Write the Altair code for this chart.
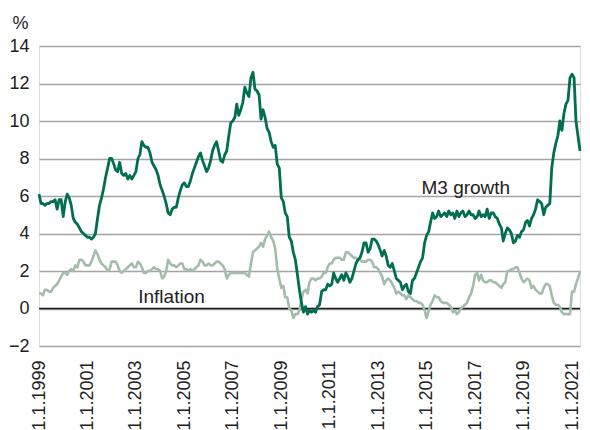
import altair as alt
import pandas as pd

start_month = "1999-01-01"

m3_growth = [
    # 1999
    6.1, 5.6, 5.6, 5.5, 5.6, 5.6, 5.7, 5.7, 5.8, 5.3, 5.8, 5.8,
    # 2000
    4.9, 5.7, 6.1, 5.9, 5.5, 4.8, 4.6, 4.5, 4.3, 4.1, 4.0, 3.9,
    # 2001
    3.8, 3.8, 3.7, 3.8, 4.0, 4.8, 5.5, 5.9, 6.4, 7.0, 7.5, 8.0,
    # 2002
    8.0, 7.7, 7.4, 7.3, 7.8, 7.2, 7.1, 7.2, 6.9, 7.1, 6.9, 7.1,
    # 2003
    7.3, 8.0, 8.2, 8.9, 8.7, 8.6, 8.6, 8.3, 7.8, 7.6, 7.4, 7.1,
    # 2004
    6.6, 6.3, 6.0, 5.6, 5.1, 5.0, 5.3, 5.4, 5.4, 5.9, 6.3, 6.6,
    # 2005
    6.7, 6.5, 6.5, 6.8, 7.2, 7.5, 7.8, 8.1, 8.3, 7.9, 7.6, 7.3,
    # 2006
    7.5, 7.9, 8.4, 8.7, 8.9, 8.4, 7.9, 7.8, 8.2, 8.4, 9.2, 9.9,
    # 2007
    10.0, 10.2, 10.9, 10.3, 10.6, 11.0, 11.8, 11.5, 11.3, 12.3, 12.6, 11.7,
    # 2008
    11.6, 11.4, 10.1, 10.6, 10.2, 9.6, 9.4, 8.9, 8.6, 8.7, 7.7, 7.5,
    # 2009
    5.9, 5.7, 5.1, 4.9, 3.8, 3.6, 3.0, 2.6, 1.8, 1.0, 0.3, -0.2,
    # 2010
    0.1, -0.3, -0.1, -0.2, -0.1, -0.2, 0.1, 0.2, 0.9, 1.0, 1.0, 1.3,
    # 2011
    1.2, 1.3, 1.9, 1.6, 1.4, 1.6, 1.8, 1.5, 1.9, 1.7, 1.4, 1.6,
    # 2012
    2.0, 2.4, 2.6, 2.7, 3.0, 3.5, 3.5, 3.0, 3.2, 3.7, 3.7, 3.6,
    # 2013
    3.4, 3.1, 2.8, 3.1, 2.8, 2.3, 2.2, 2.4, 2.0, 1.6, 1.5, 1.4,
    # 2014
    1.0, 1.2, 1.3, 0.9, 0.8, 1.5, 1.6, 1.9, 2.2, 2.5, 2.7, 3.5,
    # 2015
    3.9, 4.1, 4.6, 5.1, 4.8, 4.9, 5.2, 4.9, 5.0, 5.1, 4.9, 5.2,
    # 2016
    5.0, 5.1, 4.8, 5.2, 4.9, 5.1, 5.2, 4.9, 5.0, 5.2, 5.0, 5.0,
    # 2017
    4.8, 4.9, 5.2, 4.9, 5.0, 4.9, 5.3, 4.8, 5.1, 5.1, 4.9, 4.8,
    # 2018
    4.5, 4.3, 3.6, 4.0, 4.3, 4.2, 4.0, 3.5, 3.6, 3.9, 3.8, 4.1,
    # 2019
    4.2, 4.6, 4.7, 4.4, 4.8, 5.0, 5.3, 5.8, 5.7, 5.6, 5.0, 5.4,
    # 2020
    5.5, 5.6, 7.5, 8.3, 8.8, 9.2, 10.0, 9.5, 10.4, 10.9, 11.1, 12.3,
    # 2021
    12.5, 12.3, 10.0, 9.2, 8.4,
]

inflation = [
    # 1999
    0.8, 0.8, 0.7, 1.0, 1.0, 0.9, 0.9, 1.1, 1.2, 1.3, 1.5, 1.7,
    # 2000
    1.9, 1.9, 1.8, 2.0, 2.1, 2.0, 2.3, 2.2, 2.6, 2.6, 2.5, 2.3,
    # 2001
    2.3, 2.3, 2.5, 2.8, 3.1, 2.9, 2.6, 2.4, 2.3, 2.2, 2.0, 2.1,
    # 2002
    2.5, 2.5, 2.5, 2.3, 2.0, 1.9, 2.0, 2.1, 2.2, 2.3, 2.4, 2.2,
    # 2003
    2.2, 2.5, 2.4, 2.2, 1.9, 1.9, 2.0, 2.0, 2.1, 2.2, 2.1, 2.1,
    # 2004
    2.0, 1.6, 1.7, 2.0, 2.6, 2.4, 2.3, 2.3, 2.2, 2.3, 2.4, 2.4,
    # 2005
    2.1, 2.1, 2.0, 2.1, 2.0, 2.1, 2.2, 2.3, 2.6, 2.5, 2.3, 2.3,
    # 2006
    2.4, 2.3, 2.3, 2.4, 2.5, 2.5, 2.4, 2.3, 2.1, 1.6, 1.8, 1.9,
    # 2007
    1.9, 1.9, 1.9, 1.9, 1.9, 1.9, 1.9, 1.8, 1.7, 2.4, 3.0, 3.1,
    # 2008
    3.2, 3.3, 3.5, 3.3, 3.7, 3.9, 4.1, 3.8, 3.6, 3.2, 2.1, 1.6,
    # 2009
    1.1, 1.2, 0.6, 0.6, 0.0, -0.1, -0.5, -0.3, -0.3, -0.1, 0.5, 0.9,
    # 2010
    1.0, 0.8, 1.4, 1.6, 1.6, 1.5, 1.6, 1.6, 1.7, 1.9, 1.9, 2.2,
    # 2011
    2.4, 2.4, 2.6, 2.7, 2.7, 2.7, 2.6, 2.6, 3.0, 3.0, 2.9, 2.8,
    # 2012
    2.7, 2.7, 2.6, 2.6, 2.5, 2.5, 2.5, 2.6, 2.6, 2.5, 2.2, 2.2,
    # 2013
    2.1, 1.9, 1.7, 1.3, 1.5, 1.6, 1.5, 1.3, 1.1, 0.8, 0.9, 0.8,
    # 2014
    0.7, 0.7, 0.5, 0.7, 0.6, 0.5, 0.4, 0.4, 0.3, 0.3, 0.2, -0.1,
    # 2015
    -0.5, -0.1, 0.2, 0.4, 0.7, 0.6, 0.6, 0.4, 0.3, 0.3, 0.3, 0.2,
    # 2016
    0.1, -0.2, -0.1, -0.3, -0.2, 0.0, 0.1, 0.2, 0.3, 0.6, 0.8, 1.2,
    # 2017
    1.8, 1.9, 1.5, 1.8, 1.5, 1.4, 1.4, 1.5, 1.5, 1.4, 1.4, 1.3,
    # 2018
    1.2, 1.1, 1.3, 1.4, 2.0, 2.0, 2.1, 2.1, 2.2, 2.2, 1.9, 1.6,
    # 2019
    1.4, 1.5, 1.6, 1.5, 1.1, 1.2, 1.0, 0.9, 0.8, 0.8, 1.1, 1.3,
    # 2020
    1.3, 1.2, 0.7, 0.3, 0.2, 0.2, 0.1, -0.2, -0.3, -0.3, -0.3, -0.3,
    # 2021
    0.9, 0.9, 1.3, 1.6, 2.0,
]

tick_years = list(range(1999, 2022, 2))
y_ticks = [-2, 0, 2, 4, 6, 8, 10, 12, 14]

label_texts = ["M3 growth", "Inflation"]
label_dates = ["2014-10-15", "2003-02-05"]
label_values = [6.13, 0.32]

FONT = "Liberation Sans"
M3_COLOR = "#006e4f"
INF_COLOR = "#a2bdab"

dates = pd.date_range(start_month, periods=len(m3_growth), freq="MS").strftime("%Y-%m-%d")
df_m3 = pd.DataFrame({"date": list(dates), "value": m3_growth})
df_inf = pd.DataFrame({"date": list(dates), "value": inflation})


def ms(s):
    return int(pd.Timestamp(s).value // 10**6)


x_domain = [ms(dates[0]), ms(dates[-1])]
x_ticks = [ms(f"{y}-01-01") for y in tick_years]
x_scale = alt.Scale(type="utc", domain=x_domain)

x_axis = alt.Axis(values=x_ticks, labelExpr="'1.1.' + utcFormat(datum.value, '%Y')",
                  labelAngle=-90, labelAlign="right", labelBaseline="middle",
                  labelPadding=14, labelFontSize=18, labelFont=FONT, labelColor="#222",
                  grid=False, domain=False, ticks=False, title=None, labelOverlap=False,
                  labelFlush=False, labelBound=False)
y_scale = alt.Scale(domain=[-2, 14], nice=False, zero=False)
y_axis = alt.Axis(values=y_ticks, tickCount=9, grid=True, gridColor="#a3a3a3", gridWidth=1.5,
                  domain=False, ticks=False, labelPadding=10, labelFontSize=18, labelFont=FONT,
                  labelColor="#222", labelOverlap=False, labelFlush=False, labelBound=False,
                  title="%", titleAngle=0, titleAlign="left",
                  titleBaseline="alphabetic", titleX=-27, titleY=-18, titleFont=FONT,
                  titleFontSize=18, titleFontWeight="normal", titleColor="#222")

zero = alt.Chart(pd.DataFrame({"y": [0]})).mark_rule(color="#1a1a1a", strokeWidth=1.5).encode(
    y=alt.Y("y:Q", scale=y_scale, axis=y_axis))

inf_line = alt.Chart(df_inf).mark_line(
    color=INF_COLOR, strokeWidth=2.6, strokeJoin="round").encode(
    x=alt.X("date:T", scale=x_scale, axis=x_axis),
    y=alt.Y("value:Q", scale=y_scale, axis=y_axis))

m3_line = alt.Chart(df_m3).mark_line(
    color=M3_COLOR, strokeWidth=2.8, strokeJoin="round").encode(
    x=alt.X("date:T", scale=x_scale, axis=x_axis),
    y=alt.Y("value:Q", scale=y_scale, axis=y_axis))

labels = alt.Chart(pd.DataFrame({"text": label_texts, "date": label_dates, "value": label_values})).mark_text(
    align="left", baseline="alphabetic", font=FONT, fontSize=19, color="#222").encode(
    x=alt.X("date:T", scale=x_scale, axis=x_axis),
    y=alt.Y("value:Q", scale=y_scale, axis=y_axis), text="text:N")

chart = alt.layer(zero, inf_line, m3_line, labels).properties(
    width=541, height=300,
    autosize=alt.AutoSizeParams(type="none"),
    padding={"left": 31, "top": 38, "right": 2, "bottom": 90},
).configure_view(stroke=None).configure(background="white")

chart.save("out.html", embed_options={"renderer": "svg", "actions": False})
